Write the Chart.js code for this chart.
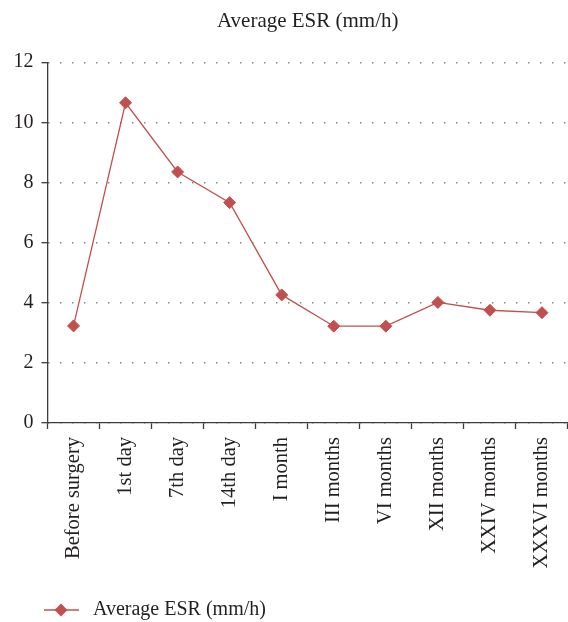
<!DOCTYPE html>
<html>
<head>
<meta charset="utf-8">
<title>Average ESR (mm/h)</title>
<script src="https://cdn.jsdelivr.net/npm/chart.js@4/dist/chart.umd.min.js"></script>
<style>
  html, body { margin: 0; padding: 0; background: #ffffff; overflow: hidden; }
  #wrap { width: 568px; height: 622px; position: relative; }
</style>
</head>
<body>
<div id="wrap"><canvas id="esrChart"></canvas></div>
<script>
// Follow-up time points
const periods = [
  'Before surgery', '1st day', '7th day', '14th day', 'I month',
  'III months', 'VI months', 'XII months', 'XXIV months', 'XXXVI months'
];
// Mean erythrocyte sedimentation rate at each time point (mm/h)
const esrValues = [3.23, 10.65, 8.35, 7.33, 4.26, 3.22, 3.22, 4.01, 3.75, 3.67];
// Value-axis ticks
const yTicks = [0, 2, 4, 6, 8, 10, 12];

const seriesName = 'Average ESR (mm/h)';
const RED = '#c0504d';
const TEXT = '#231f20';
const AXIS = '#3c3c3c';
const FONT = 'Liberation Serif, Times New Roman, serif';

// Legend swatch: short line with a diamond marker on it (left part kept blank as indent)
function legendSwatch() {
  const c = document.createElement('canvas');
  c.width = 81; c.height = 16;
  const g = c.getContext('2d');
  g.strokeStyle = RED;
  g.lineWidth = 1.4;
  g.beginPath(); g.moveTo(42, 8); g.lineTo(77, 8); g.stroke();
  g.fillStyle = RED;
  g.beginPath();
  g.moveTo(59, 1.5); g.lineTo(65.5, 8); g.lineTo(59, 14.5); g.lineTo(52.5, 8);
  g.closePath(); g.fill();
  return c;
}
const swatch = legendSwatch();

// Center the title over the plot area rather than the whole canvas
const titleOverPlot = {
  id: 'titleOverPlot',
  afterLayout(chart) {
    if (chart.titleBlock) {
      chart.titleBlock.left = chart.chartArea.left;
      chart.titleBlock.right = chart.chartArea.right;
    }
  }
};

new Chart(document.getElementById('esrChart'), {
  type: 'line',
  data: {
    labels: periods,
    datasets: [{
      label: seriesName,
      data: esrValues,
      borderColor: RED,
      backgroundColor: RED,
      borderWidth: 1.3,
      pointStyle: 'rectRot',
      pointRadius: 6,
      pointBorderWidth: 1,
      pointBackgroundColor: RED,
      pointBorderColor: RED,
      tension: 0,
      fill: false
    }]
  },
  plugins: [titleOverPlot],
  options: {
    responsive: true,
    maintainAspectRatio: false,
    animation: false,
    devicePixelRatio: 1,
    layout: { autoPadding: false, padding: { left: 0, right: 0, top: 0, bottom: -8 } },
    plugins: {
      title: {
        display: true,
        text: seriesName,
        color: TEXT,
        font: { family: FONT, size: 21, weight: 'normal' },
        padding: { top: 9, bottom: 28 }
      },
      legend: {
        display: true,
        position: 'bottom',
        align: 'start',
        labels: {
          usePointStyle: true,
          pointStyle: swatch,
          pointStyleWidth: 81,
          boxHeight: 16,
          padding: 2,
          color: TEXT,
          font: { family: FONT, size: 20 }
        }
      },
      tooltip: { enabled: false }
    },
    scales: {
      x: {
        type: 'category',
        offset: true,
        border: { display: true, color: AXIS, width: 1.3 },
        grid: {
          offset: true,
          drawOnChartArea: false,
          drawTicks: true,
          tickLength: 6,
          tickColor: AXIS,
          tickWidth: 1.3
        },
        ticks: {
          color: TEXT,
          font: { family: FONT, size: 20.5 },
          minRotation: 90,
          maxRotation: 90,
          autoSkip: false,
          padding: 8
        },
        afterFit: (scale) => {
          scale.height = 175;
          scale.paddingLeft = 0;
          scale.paddingRight = 0;
        }
      },
      y: {
        min: 0,
        max: 12,
        border: { display: true, color: AXIS, width: 1.3, dash: [1, 11] },
        afterBuildTicks: (scale) => { scale.ticks = yTicks.map(v => ({ value: v })); },
        grid: {
          color: '#4f4f4f',
          lineWidth: 1.4,
          tickBorderDash: [],
          tickLength: 6,
          tickColor: AXIS,
          tickWidth: 1.3
        },
        ticks: {
          color: TEXT,
          font: { family: FONT, size: 20 },
          padding: 8
        },
        afterFit: (scale) => { scale.width = 47.5; }
      }
    }
  }
});
</script>
</body>
</html>
